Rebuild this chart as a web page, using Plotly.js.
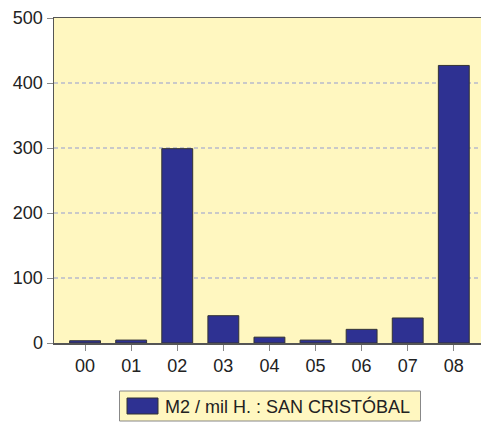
<!DOCTYPE html>
<html>
<head>
<meta charset="utf-8">
<script src="https://cdn.plot.ly/plotly-3.0.1.min.js"></script>
<style>html,body{margin:0;padding:0;background:#fff;}#chart{width:481px;height:423px;}</style>
</head>
<body>
<div id="chart"></div>
<script>
const categories = ["00", "01", "02", "03", "04", "05", "06", "07", "08"];
const values = [3.5, 4.5, 299, 42, 9, 4.5, 21, 38.5, 427];
const seriesName = "M2 / mil H. : SAN CRISTÓBAL";
const yTicks = [0, 100, 200, 300, 400, 500];

const barColor = "#2E3192";
const plotBg = "#FFF7C0";
const fontFam = "Liberation Sans, Arial, sans-serif";

// paper coords helpers (plot area: x 54..481, y 18..343)
const px = v => (v - 54) / 427;
const py = v => (343 - v) / 325;

const trace = {
  type: "bar",
  x: categories.map((c, i) => i),
  y: values,
  name: seriesName,
  marker: { color: barColor, line: { color: "#333333", width: 1 } },
  showlegend: false,
  hoverinfo: "skip"
};

const layout = {
  width: 481, height: 423,
  margin: { l: 54, r: 0, t: 18, b: 80 },
  paper_bgcolor: "#ffffff",
  plot_bgcolor: plotBg,
  bargap: 0.33,
  font: { family: fontFam, size: 18, color: "#222222" },
  xaxis: {
    range: [-0.674, 8.59],
    tickvals: categories.map((c, i) => i),
    ticktext: categories,
    ticks: "outside", ticklen: 6, tickcolor: "#888888", tickwidth: 1,
    showgrid: false, zeroline: false,
    showline: true, linecolor: "#555555", linewidth: 1.5, mirror: true,
    tickfont: { size: 18, color: "#222222" },
    fixedrange: true
  },
  yaxis: {
    range: [0, 500],
    tickvals: yTicks,
    ticks: "outside", ticklen: 6, tickcolor: "#888888", tickwidth: 1,
    showgrid: true, gridcolor: "#C9C9C9", gridwidth: 1.2, griddash: "4px,3px",
    zeroline: false,
    showline: true, linecolor: "#555555", linewidth: 1.5, mirror: true,
    tickfont: { size: 18, color: "#222222" },
    fixedrange: true
  },
  shapes: [
    { type: "rect", xref: "paper", yref: "paper",
      x0: px(119.5), x1: px(420.5), y0: py(421), y1: py(391),
      fillcolor: plotBg, line: { color: "#888888", width: 1 } },
    { type: "rect", xref: "paper", yref: "paper",
      x0: px(127), x1: px(158), y0: py(414), y1: py(398),
      fillcolor: barColor, line: { color: "#333333", width: 1 } }
  ],
  annotations: [
    { xref: "paper", yref: "paper", x: px(163), y: py(406),
      xanchor: "left", yanchor: "middle", showarrow: false,
      text: seriesName, font: { size: 18, color: "#222222", family: fontFam } }
  ]
};

Plotly.newPlot("chart", [trace], layout, { displayModeBar: false, staticPlot: true });
</script>
</body>
</html>
